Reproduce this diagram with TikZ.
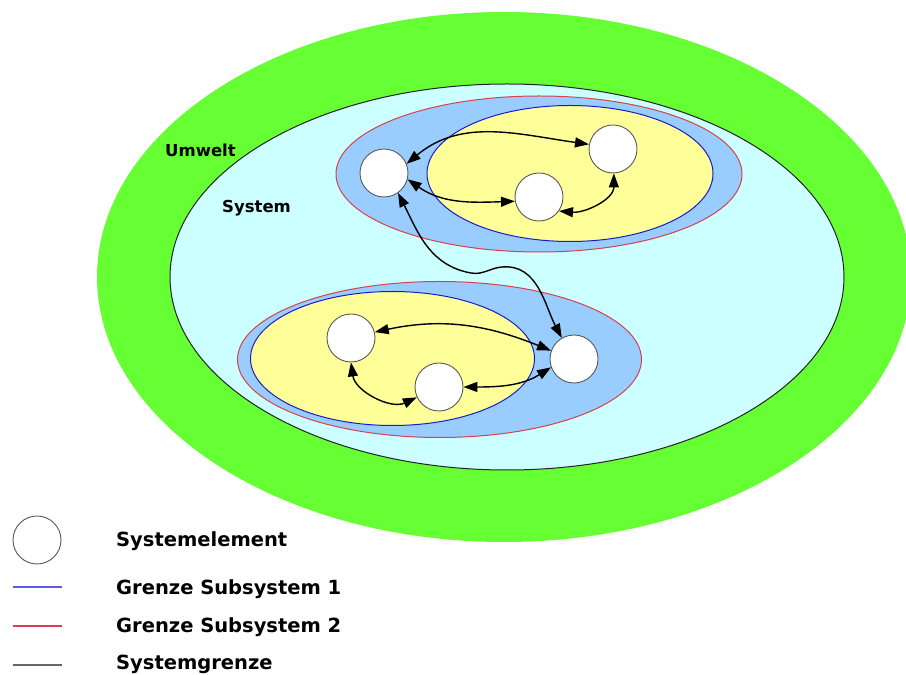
\documentclass[tikz,border=0pt]{standalone}
\usepackage{fontspec}
\setmainfont{DejaVu Sans}
\usetikzlibrary{arrows.meta}
\definecolor{umweltgreen}{HTML}{66FF33}
\definecolor{systemcyan}{HTML}{CCFFFF}
\definecolor{subblue}{HTML}{99CCFF}
\definecolor{subyellow}{HTML}{FFFF99}
\definecolor{borderone}{HTML}{1A1ACC}
\definecolor{bordertwo}{HTML}{D9404A}
\definecolor{legendblue}{HTML}{5C5CE0}
\definecolor{sysborder}{HTML}{222222}
\begin{document}
\begin{tikzpicture}[x=1pt,y=1pt,
  element/.style={circle, minimum size=48pt, inner sep=0pt, fill=white,
    draw=black!65, line width=0.9pt},
  link/.style={{Triangle[length=14pt,width=10pt]}-{Triangle[length=14pt,width=10pt]},
    line width=1.4pt, black},
  label/.style={anchor=base west, inner sep=0pt, font=\bfseries\fontsize{16.5}{18}\selectfont},
  legendtext/.style={anchor=base west, inner sep=0pt, font=\bfseries\fontsize{19.5}{22}\selectfont},
  legendline/.style={line width=1.8pt}]
\useasboundingbox (0,0) rectangle (906,675);
\clip (0,0) rectangle (906,675);
\fill[white] (0,0) rectangle (906,675);

% environment and system
\fill[umweltgreen] (504,398) ellipse [x radius=407pt, y radius=265pt];
\filldraw[fill=systemcyan, draw=sysborder, line width=1pt] (507,398) ellipse [x radius=337pt, y radius=193pt];

% upper subsystem
\filldraw[fill=subblue, draw=bordertwo, line width=1pt] (539,501) ellipse [x radius=203pt, y radius=78pt];
\filldraw[fill=subyellow, draw=borderone, line width=1pt] (570,501.5) ellipse [x radius=143pt, y radius=68pt];

% lower subsystem
\filldraw[fill=subblue, draw=bordertwo, line width=1pt] (439.5,315.5) ellipse [x radius=202pt, y radius=78pt];
\filldraw[fill=subyellow, draw=borderone, line width=1pt] (392.5,316.5) ellipse [x radius=142pt, y radius=67pt];

% labels
\node[label] (umwelt) at (165,518) {Umwelt};
\node[label] (system) at (222,462) {System};

% system elements
\node[element] (a) at (384,502) {};
\node[element] (b) at (613,526) {};
\node[element] (c) at (539,478) {};
\node[element] (d) at (351,337) {};
\node[element] (e) at (439,288) {};
\node[element] (f) at (574,316) {};

% relations inside the upper subsystem
\draw[link] (a.22) to[out=40, in=172] (b.169);
\draw[link] (a.-15) to[out=-35, in=182] (c.190);
\draw[link] (c.-35) to[out=-5, in=-90] (b.-88);

% relation between the subsystems
\coordinate (w1) at (471,402);
\coordinate (w2) at (502,408);
\draw[link] (a.-55) to[out=-63, in=170] (w1) to[out=-10, in=185] (w2) to[out=5, in=118] (f.120);

% relations inside the lower subsystem
\draw[link] (d.14) to[out=12, in=158] (f.160);
\draw[link] (e.0) to[out=0, in=212] (f.200);
\draw[link] (d.-90) to[out=-82, in=205] (e.205);

% legend
\node[element] (legcircle) at (37,135) {};
\node[legendtext] (legelement) at (116,128) {Systemelement};
\coordinate (l1a) at (13,88);
\coordinate (l1b) at (62,88);
\draw[legendline, draw=legendblue] (l1a) -- (l1b);
\node[legendtext] (legone) at (116,80) {Grenze Subsystem 1};
\coordinate (l2a) at (13,49);
\coordinate (l2b) at (62,49);
\draw[legendline, draw=bordertwo] (l2a) -- (l2b);
\node[legendtext] (legtwo) at (116,42) {Grenze Subsystem 2};
\coordinate (l3a) at (13,10);
\coordinate (l3b) at (62,10);
\draw[legendline, draw=black!60] (l3a) -- (l3b);
\node[legendtext] (legsys) at (116,5) {Systemgrenze};
\end{tikzpicture}
\end{document}
